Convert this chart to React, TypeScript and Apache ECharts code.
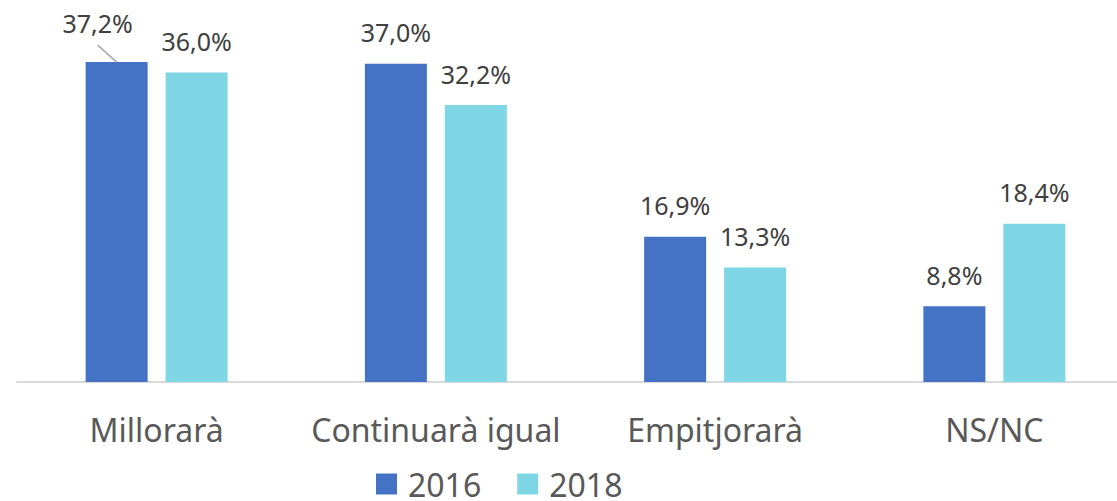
import React, { useEffect, useRef } from "react";
import * as echarts from "echarts";

const categories = ["Millorarà", "Continuarà igual", "Empitjorarà", "NS/NC"];
const values2016 = [37.2, 37.0, 16.9, 8.8];
const values2018 = [36.0, 32.2, 13.3, 18.4];
const seriesNames = ["2016", "2018"];

const fmt = (v: number) => v.toFixed(1).replace(".", ",") + "%";

export default function App() {
  const ref = useRef<HTMLDivElement>(null);
  useEffect(() => {
    if (!ref.current) return;
    const chart = echarts.init(ref.current, null, { renderer: "svg" });
    const labelBase = {
      show: true,
      position: "top" as const,
      distance: 19,
      fontFamily: "Noto Sans",
      fontSize: 25,
      color: "#404040",
      formatter: (p: any) => fmt(p.value),
    };
    chart.setOption({
      animation: false,
      grid: { left: 17, right: -17, top: 38, bottom: 119, outerBoundsMode: "none", containLabel: false },
      xAxis: {
        type: "category",
        data: categories,
        axisTick: { show: false },
        axisLine: { lineStyle: { color: "#D9D9D9", width: 2 } },
        axisLabel: {
          fontFamily: "Noto Sans",
          fontSize: 32,
          color: "#595959",
          margin: 31,
          interval: 0,
        },
      },
      yAxis: { type: "value", min: 0, max: 40, show: false, splitLine: { show: false } },
      legend: {
        data: seriesNames,
        left: 371,
        top: 463,
        itemWidth: 21,
        itemHeight: 21,
        itemGap: 36,
        icon: "rect",
        textStyle: {
          fontFamily: "Noto Sans",
          fontSize: 32,
          lineHeight: 26,
          color: "#595959",
          padding: [0, 0, 0, 6],
        },
      },
      series: [
        {
          name: seriesNames[0],
          type: "bar",
          data: values2016,
          barWidth: 62,
          barGap: "29%",
          itemStyle: { color: "#4472C4" },
          label: labelBase,
          labelLayout: (p: any) => (p.dataIndex === 0 ? { dx: -19, dy: -8 } : {}),
        },
        {
          name: seriesNames[1],
          type: "bar",
          data: values2018,
          barWidth: 62,
          barGap: "29%",
          itemStyle: { color: "#7FD6E5" },
          label: labelBase,
        },
      ],
    });
    // leader line for the moved first label, anchored on the library's bar layout
    try {
      const data = (chart as any).getModel().getSeriesByIndex(0).getData();
      const lay = data.getItemLayout(0);
      const cx = lay.x + lay.width / 2;
      const top = Math.min(lay.y, lay.y + lay.height);
      chart.setOption({
        graphic: [
          {
            type: "line",
            shape: { x1: cx - 19, y1: top - 17, x2: cx, y2: top },
            style: { stroke: "#A6A6A6", lineWidth: 1.5 },
            z: 10,
          },
        ],
      });
    } catch (e) {}
    return () => chart.dispose();
  }, []);
  return (
    <div
      ref={ref}
      style={{ position: "fixed", left: 0, top: 0, width: 1117, height: 501, background: "#fff" }}
    />
  );
}
